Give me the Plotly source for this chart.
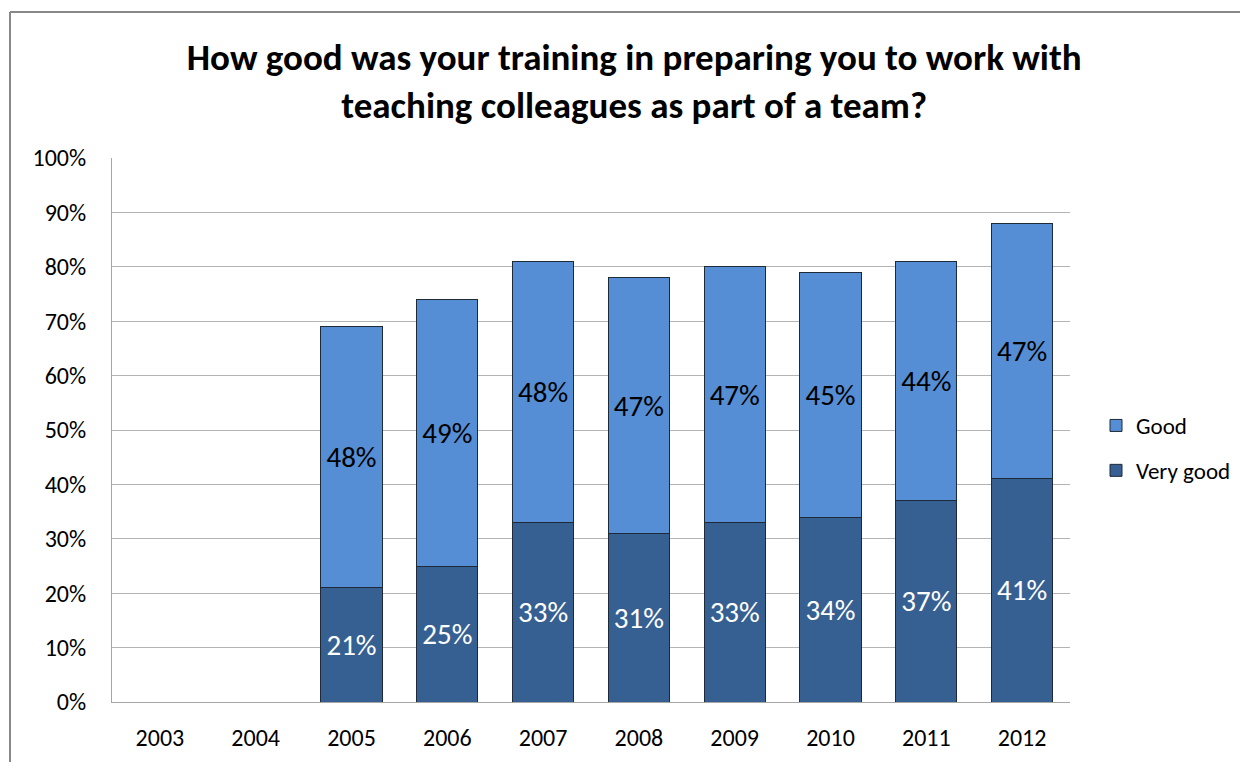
import plotly.graph_objects as go

years = ["2003", "2004", "2005", "2006", "2007", "2008", "2009", "2010", "2011", "2012"]
very_good = [None, None, 21, 25, 33, 31, 33, 34, 37, 41]
good = [None, None, 48, 49, 48, 47, 47, 45, 44, 47]

font_family = "Carlito, Calibri, Lato, sans-serif"

# the page has an 8px body margin, so figure coords = screen coords - 8
W, H = 1240, 754
L, T, R, B = 104, 150, 1062, 694  # plot area edges in figure pixels


def labels(vals):
    return [f"{v}%" if v is not None else "" for v in vals]


fig = go.Figure()
fig.add_trace(go.Bar(x=years, y=very_good, name="Very good", legendgroup="vg", legendrank=2,
                     marker=dict(color="#376092", line=dict(color="#1F2A38", width=1)),
                     text=labels(very_good), textposition="inside",
                     insidetextanchor="middle", constraintext="none",
                     textfont=dict(color="white", size=29, family=font_family)))
fig.add_trace(go.Bar(x=years, y=good, name="Good", legendgroup="g", legendrank=1,
                     marker=dict(color="#558ED5", line=dict(color="#1F2A38", width=1)),
                     text=labels(good), textposition="inside",
                     insidetextanchor="middle", constraintext="none",
                     textfont=dict(color="black", size=29, family=font_family)))

pw, ph = R - L, B - T
border = dict(color="#888888", width=2)
fig.update_layout(
    width=W, height=H,
    barmode="stack", bargap=0.36,
    plot_bgcolor="white", paper_bgcolor="white",
    font=dict(family=font_family, size=24, color="black"),
    margin=dict(l=L, r=W - R, t=T, b=H - B, autoexpand=False),
    title=dict(text="<b>How good was your training in preparing you to work with<br>teaching colleagues as part of a team?</b>",
               x=0.505, xanchor="center", y=1 - 62 / H, yanchor="top",
               font=dict(size=37, family=font_family)),
    legend=dict(x=(1088 - L) / pw, xanchor="left", y=(B - 440) / ph, yanchor="middle",
                traceorder="grouped", font=dict(size=23),
                itemwidth=30, tracegroupgap=12),
    shapes=[
        dict(type="line", xref="paper", yref="paper",
             x0=(2 - L) / pw, x1=(2 - L) / pw, y0=-0.3, y1=(B - 4) / ph, line=border),
        dict(type="line", xref="paper", yref="paper",
             x0=(2 - L) / pw, x1=1.4, y0=(B - 4) / ph, y1=(B - 4) / ph, line=border),
    ],
)
fig.update_yaxes(range=[0, 100], tickvals=list(range(0, 101, 10)),
                 ticktext=[f"{v}%" for v in range(0, 101, 10)],
                 showgrid=True, gridcolor="#B3B3B3", gridwidth=1,
                 showline=True, linecolor="#A6A6A6", linewidth=1,
                 zeroline=False, ticks="", ticklabelstandoff=20, fixedrange=True)
fig.update_xaxes(showline=True, linecolor="#A6A6A6", linewidth=1,
                 ticks="", ticklabelstandoff=14, fixedrange=True)

fig.write_html("out.html")
